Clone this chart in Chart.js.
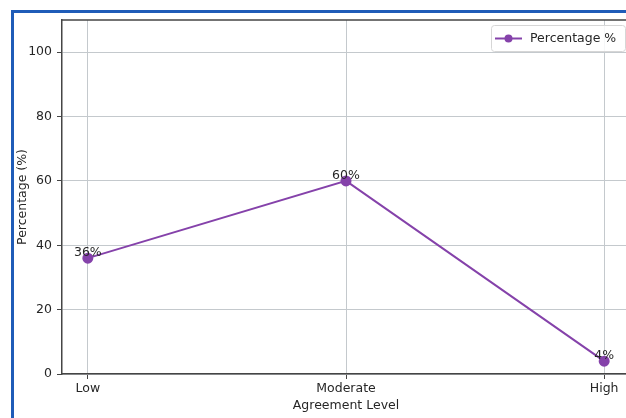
<!DOCTYPE html>
<html>
<head>
<meta charset="utf-8">
<script src="https://cdn.jsdelivr.net/npm/chart.js@4"></script>
<style>
  html, body { margin: 0; padding: 0; background: #fff; overflow: hidden; width: 626px; height: 418px; }
  #frame { position: absolute; left: 11px; top: 10px; width: 700px; height: 500px; border-left: 3px solid #1f5cb8; border-top: 3px solid #1f5cb8; }
  #wrap { position: absolute; left: 0; top: 0; width: 640px; height: 418px; }
</style>
</head>
<body>
<div id="frame"></div>
<div id="wrap"><canvas id="chart"></canvas></div>
<script>
// Agreement level chart
const categories = ['Low', 'Moderate', 'High'];
const percentages = [36, 60, 4];
const yTicks = [0, 20, 40, 60, 80, 100];
const seriesLabel = 'Percentage %';

const FONT = 'DejaVu Sans';
const TEXT = '#262626';
const PURPLE = '#8542aa';
const GRID = '#c4c9cd';
const SPINE = '#454545';

// value labels above each point
const pointLabels = {
    id: 'pointLabels',
    afterDatasetsDraw(chart) {
        const ctx = chart.ctx;
        const meta = chart.getDatasetMeta(0);
        ctx.save();
        ctx.font = `12.5px "${FONT}"`;
        ctx.fillStyle = TEXT;
        ctx.textAlign = 'center';
        ctx.textBaseline = 'bottom';
        meta.data.forEach((pt, i) => {
            ctx.fillText(percentages[i] + '%', pt.x, pt.y + 1);
        });
        ctx.restore();
    },
};

// top spine + legend box in the upper right
const frameAndLegend = {
    id: 'frameAndLegend',
    afterDraw(chart) {
        const { ctx, chartArea: a } = chart;
        ctx.save();
        ctx.strokeStyle = SPINE;
        ctx.lineWidth = 1.5;
        ctx.beginPath();
        ctx.moveTo(a.left, a.top);
        ctx.lineTo(a.right, a.top);
        ctx.stroke();

        const bx = 491, by = 25, bw = 134, bh = 26;
        ctx.fillStyle = 'rgba(255,255,255,0.85)';
        ctx.strokeStyle = '#d6d6d6';
        ctx.lineWidth = 1;
        ctx.beginPath();
        ctx.roundRect(bx + 0.5, by + 0.5, bw, bh, 3);
        ctx.fill();
        ctx.stroke();

        const ly = by + bh / 2 + 0.5;
        ctx.strokeStyle = PURPLE;
        ctx.lineWidth = 2;
        ctx.beginPath();
        ctx.moveTo(495, ly);
        ctx.lineTo(522, ly);
        ctx.stroke();
        ctx.fillStyle = PURPLE;
        ctx.beginPath();
        ctx.arc(508.5, ly, 4, 0, Math.PI * 2);
        ctx.fill();

        ctx.fillStyle = TEXT;
        ctx.font = `12.5px "${FONT}"`;
        ctx.textBaseline = 'middle';
        ctx.textAlign = 'left';
        ctx.fillText(seriesLabel, 530, ly);
        ctx.restore();
    },
};

new Chart(document.getElementById('chart'), {
    type: 'line',
    data: {
        datasets: [{
            label: seriesLabel,
            data: percentages.map((v, i) => ({ x: i, y: v })),
            borderColor: PURPLE,
            backgroundColor: PURPLE,
            borderWidth: 2,
            pointRadius: 4.5,
            pointHoverRadius: 4.5,
            tension: 0,
            fill: false,
        }],
    },
    options: {
        responsive: true, maintainAspectRatio: false, animation: false,
        layout: { padding: { left: 0, top: 20, right: 10, bottom: 0 } },
        plugins: { legend: { display: false }, tooltip: { enabled: false } },
        scales: {
            x: {
                type: 'linear', min: -0.1, max: 2.1,
                afterBuildTicks: (s) => { s.ticks = categories.map((c, i) => ({ value: i })); },
                afterFit: (s) => { s.height = 44; },
                ticks: {
                    callback: (v) => categories[v],
                    color: TEXT, font: { family: FONT, size: 12.5 }, padding: 2,
                    maxRotation: 0, autoSkip: false,
                },
                grid: { color: GRID, lineWidth: 1, tickLength: 5, tickColor: SPINE },
                border: { color: SPINE, width: 1.5 },
                title: {
                    display: true, text: 'Agreement Level', color: TEXT,
                    font: { family: FONT, size: 12.5 }, padding: { top: 0, bottom: 5 },
                },
            },
            y: {
                min: 0, max: 110,
                afterBuildTicks: (s) => { s.ticks = yTicks.map(v => ({ value: v })); },
                afterFit: (s) => { s.width = 62; },
                ticks: { color: TEXT, font: { family: FONT, size: 12.5 }, padding: 5 },
                grid: { color: GRID, lineWidth: 1, tickLength: 5, tickColor: SPINE },
                border: { color: SPINE, width: 1.5 },
                title: {
                    display: true, text: 'Percentage (%)', color: TEXT,
                    font: { family: FONT, size: 12.5 }, padding: { top: 15, bottom: 0 },
                },
            },
        },
    },
    plugins: [pointLabels, frameAndLegend],
});
</script>
</body>
</html>
